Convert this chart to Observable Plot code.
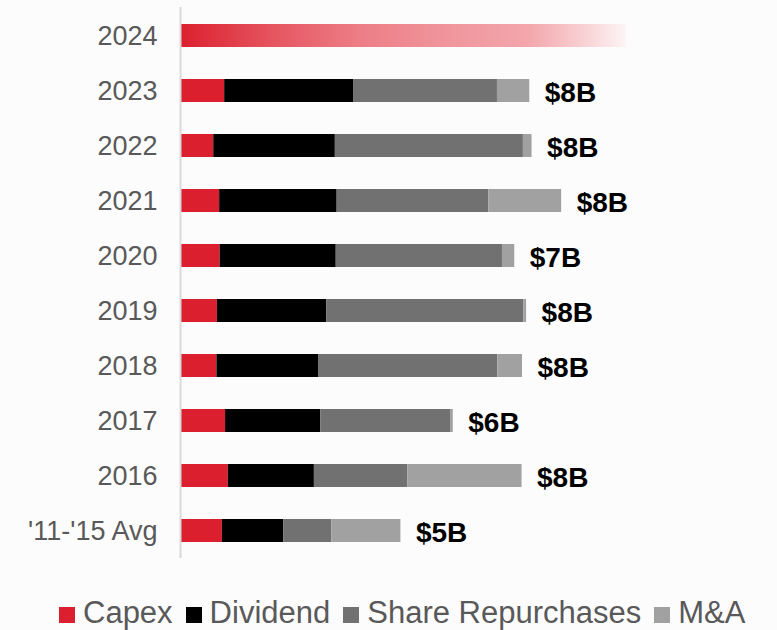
<!DOCTYPE html>
<html>
<head>
<meta charset="utf-8">
<script src="https://cdn.jsdelivr.net/npm/d3@7"></script>
<script src="https://cdn.jsdelivr.net/npm/@observablehq/plot@0.6"></script>
<style>
  html, body { margin: 0; padding: 0; background: #fcfcfc; }
  #wrap { position: relative; width: 777px; height: 630px; font-family: "Liberation Sans", Arial, sans-serif; }
  #legend { position: absolute; top: 597px; left: 59px; display: flex; align-items: center; font-size: 31px; line-height: 31px; height: 31px; color: #595959; white-space: nowrap; }
  #legend .sw { width: 16px; height: 16px; margin-right: 8px; margin-top: 4px; flex: none; }
  #legend .it { display: flex; align-items: center; margin-right: 13px; }
</style>
</head>
<body>
<div id="wrap"><div id="chart"></div><div id="legend"></div></div>
<script>
// ---- data (in $B) ----
const years = ["2024", "2023", "2022", "2021", "2020", "2019", "2018", "2017", "2016", "'11-'15 Avg"];
const capex     = [null, 0.97, 0.73, 0.86, 0.87, 0.81, 0.80, 0.99, 1.05, 0.92];
const dividend  = [null, 2.83, 2.67, 2.58, 2.55, 2.40, 2.23, 2.09, 1.89, 1.35];
const buybacks  = [null, 3.16, 4.13, 3.33, 3.65, 4.33, 3.94, 2.85, 2.05, 1.05];
const mna       = [null, 0.71, 0.19, 1.60, 0.27, 0.06, 0.54, 0.06, 2.51, 1.52];
const totalLabels = ["", "$8B", "$8B", "$8B", "$7B", "$8B", "$8B", "$6B", "$8B", "$5B"];
const outlook2024 = 9.8;
const categories = ["Capex", "Dividend", "Share Repurchases", "M&A"];
const colors = ["#dc1f2e", "#000000", "#717171", "#a1a1a1"];

// ---- tidy tables ----
const series = [capex, dividend, buybacks, mna];
const rows = [];
years.forEach((y, i) => {
  series.forEach((s, k) => {
    if (s[i] != null) rows.push({year: y, cat: categories[k], value: s[i]});
  });
});
const totals = years.map((y, i) => ({
  year: y,
  total: series.reduce((a, s) => a + (s[i] || 0), 0),
  label: totalLabels[i]
})).filter(d => d.label);
const outlook = [{year: years[0], value: outlook2024}];

const svg = Plot.plot({
  width: 777,
  height: 590,
  marginTop: 7,
  marginBottom: 32,
  marginLeft: 180,
  marginRight: 5,
  style: {fontFamily: "'Liberation Sans', Arial, sans-serif", fontSize: "27px", color: "#595959", background: "transparent", overflow: "visible"},
  x: {domain: [0, 13], axis: null},
  y: {domain: years, paddingInner: 0.59, paddingOuter: 0.28, label: null, tickSize: 0, tickPadding: 23},
  color: {domain: categories, range: colors},
  marks: [
    Plot.barX(outlook, {y: "year", x: "value", fill: "url(#grad2024)"}),
    Plot.barX(rows, {y: "year", x: "value", fill: "cat", order: categories}),
    Plot.ruleX([0], {stroke: "#d9d9d9", strokeWidth: 2}),
    Plot.text(totals, {y: "year", x: "total", text: "label", dx: 15, dy: 2, textAnchor: "start", fill: "#000", fontWeight: "bold", fontSize: 28})
  ]
});

const defs = d3.select(svg).insert("defs", ":first-child");
const g = defs.append("linearGradient").attr("id", "grad2024").attr("x1", "0").attr("x2", "1").attr("y1", "0").attr("y2", "0");
[[0, "#dc1f2e"], [0.2, "#e5535e"], [0.4, "#ed7d86"], [0.6, "#f0959c"], [0.78, "#f3a6ac"], [0.9, "#f8cfd2"], [1, "#fdf5f6"]]
  .forEach(([o, c]) => g.append("stop").attr("offset", o).attr("stop-color", c));

document.getElementById("chart").appendChild(svg);

const legend = d3.select("#legend");
categories.forEach((c, i) => {
  const it = legend.append("div").attr("class", "it");
  it.append("div").attr("class", "sw").style("background", colors[i]);
  it.append("span").text(c);
});
</script>
</body>
</html>
